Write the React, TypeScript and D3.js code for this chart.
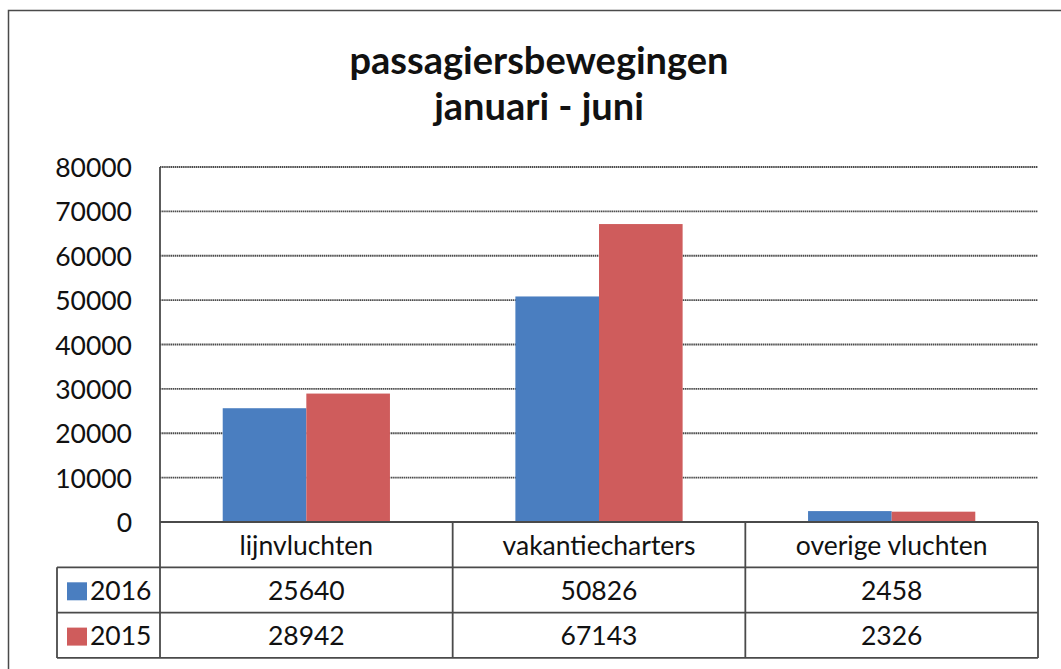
import React from "react";
import * as d3 from "d3";

const categories = ["lijnvluchten", "vakantiecharters", "overige vluchten"];
const seriesNames = ["2016", "2015"];
const values2016 = [25640, 50826, 2458];
const values2015 = [28942, 67143, 2326];
const yTicks = [0, 10000, 20000, 30000, 40000, 50000, 60000, 70000, 80000];
const titleLines = ["passagiersbewegingen", "januari - juni"];

const colors: Record<string, string> = { "2016": "#4A7EC0", "2015": "#CF5C5C" };
const seriesValues: Record<string, number[]> = { "2016": values2016, "2015": values2015 };

const W = 1061;
const H = 669;
const plotLeft = 160;
const plotRight = 1038;
const plotTop = 167;
const plotBottom = 522;
const rowLabelLeft = 57;
const rowH = 45.3;
const font = "Lato, 'Open Sans', sans-serif";
const lineColor = "#4a4a4a";

export default function App() {
  const y = d3.scaleLinear().domain([0, 80000]).range([plotBottom, plotTop]);
  const x0 = d3.scaleBand<string>().domain(categories).range([plotLeft, plotRight]).padding(0);
  const x1 = d3
    .scaleBand<string>()
    .domain(seriesNames)
    .range([0, x0.bandwidth()])
    .paddingInner(0)
    .paddingOuter(0.75);

  const rowTops = [plotBottom, plotBottom + rowH, plotBottom + 2 * rowH];
  const tableBottom = plotBottom + 3 * rowH;

  return (
    <svg width={W} height={H} style={{ position: "absolute", left: 0, top: 0, background: "#fff" }}>
      <rect x={0} y={0} width={W} height={H} fill="#fff" />
      {/* outer frame */}
      <rect x={8.5} y={10.5} width={W + 20} height={H + 20} fill="none" stroke={lineColor} strokeWidth={1.5} />

      {/* title */}
      {titleLines.map((t, i) => (
        <text
          key={t}
          x={539}
          y={74 + i * 46}
          textAnchor="middle"
          fontFamily={font}
          fontWeight={700}
          fontSize={38}
          fill="#111"
        >
          {t}
        </text>
      ))}

      {/* gridlines */}
      {yTicks.map((t) => (
        <line
          key={t}
          x1={plotLeft}
          x2={plotRight}
          y1={y(t)}
          y2={y(t)}
          stroke={lineColor}
          strokeWidth={1.8}
          strokeDasharray="1.5 0.6"
        />
      ))}
      {yTicks.map((t) => (
        <text
          key={"l" + t}
          x={132}
          y={y(t) + 10}
          textAnchor="end"
          fontFamily={font}
          fontSize={26.5}
          fill="#111"
        >
          {t}
        </text>
      ))}

      {/* bars */}
      {categories.map((c, ci) =>
        seriesNames.map((s) => {
          const v = seriesValues[s][ci];
          return (
            <rect
              key={c + s}
              x={(x0(c) ?? 0) + (x1(s) ?? 0)}
              y={y(v)}
              width={x1.bandwidth()}
              height={y(0) - y(v)}
              fill={colors[s]}
            />
          );
        })
      )}

      {/* data table lines */}
      <line x1={plotLeft} x2={plotLeft} y1={plotTop} y2={tableBottom} stroke={lineColor} strokeWidth={1.8} />
      <line x1={plotLeft} x2={plotRight} y1={plotBottom} y2={plotBottom} stroke={lineColor} strokeWidth={1.8} />
      {[rowTops[1], rowTops[2], tableBottom].map((yy, i) => (
        <line key={"h" + i} x1={rowLabelLeft} x2={plotRight} y1={yy} y2={yy} stroke={lineColor} strokeWidth={1.8} />
      ))}
      <line x1={rowLabelLeft} x2={rowLabelLeft} y1={rowTops[1]} y2={tableBottom} stroke={lineColor} strokeWidth={1.8} />
      {categories.slice(1).map((c) => (
        <line key={"v" + c} x1={x0(c)} x2={x0(c)} y1={plotBottom} y2={tableBottom} stroke={lineColor} strokeWidth={1.8} />
      ))}
      <line x1={plotRight} x2={plotRight} y1={plotBottom} y2={tableBottom} stroke={lineColor} strokeWidth={1.8} />

      {/* category labels */}
      {categories.map((c) => (
        <text
          key={"c" + c}
          x={(x0(c) ?? 0) + x0.bandwidth() / 2}
          y={rowTops[0] + rowH / 2 + 10}
          textAnchor="middle"
          fontFamily={font}
          fontSize={26.5}
          fill="#111"
        >
          {c}
        </text>
      ))}

      {/* series rows */}
      {seriesNames.map((s, si) => {
        const top = rowTops[si + 1];
        return (
          <g key={"r" + s}>
            <rect x={67} y={top + 15} width={20} height={18} fill={colors[s]} />
            <text x={90} y={top + rowH / 2 + 10} fontFamily={font} fontSize={26.5} fill="#111">
              {s}
            </text>
            {categories.map((c, ci) => (
              <text
                key={s + c}
                x={(x0(c) ?? 0) + x0.bandwidth() / 2}
                y={top + rowH / 2 + 10}
                textAnchor="middle"
                fontFamily={font}
                fontSize={26.5}
                fill="#111"
              >
                {seriesValues[s][ci]}
              </text>
            ))}
          </g>
        );
      })}
    </svg>
  );
}
